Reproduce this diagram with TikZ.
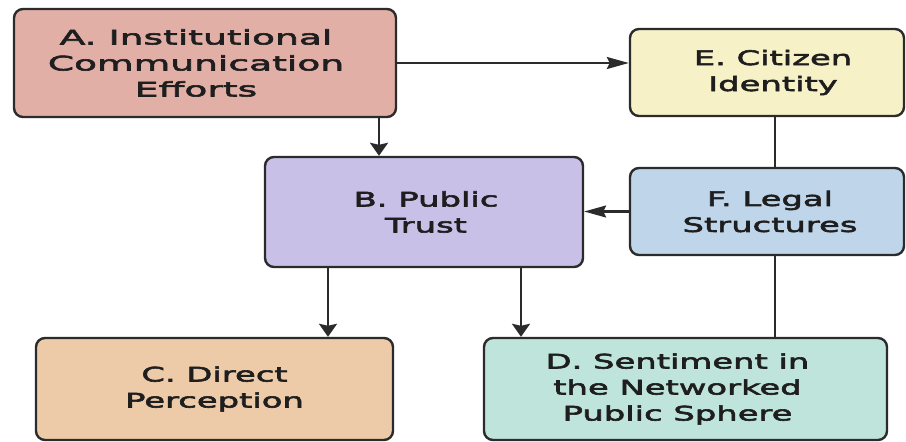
\documentclass[tikz,border=0pt]{standalone}
\usepackage{fontspec}
\newfontfamily\boxfont[FakeStretch=1.69,FakeBold=3]{DejaVu Sans}
\newfontfamily\boxfontA[FakeStretch=1.88,FakeBold=3]{DejaVu Sans}
\usetikzlibrary{arrows.meta}
\definecolor{cA}{HTML}{E2AFA7}
\definecolor{cB}{HTML}{C9C0E8}
\definecolor{cC}{HTML}{EDCAA8}
\definecolor{cD}{HTML}{BFE4DC}
\definecolor{cE}{HTML}{F7F1C8}
\definecolor{cF}{HTML}{BFD6EA}
\definecolor{edge}{HTML}{2B2B2B}
\definecolor{ink}{HTML}{1E1E1E}
\begin{document}
\begin{tikzpicture}[x=1pt,y=1pt,
  box/.style={draw=edge, line width=2.4pt, rounded corners=9pt, inner sep=0pt},
  txt/.style={font=\boxfont\fontsize{20}{26}\selectfont, align=center, text=ink},
  txtA/.style={font=\boxfontA\fontsize{20}{26}\selectfont, align=center, text=ink},
  link/.style={draw=edge, line width=2.3pt},
  varr/.style={link, -{Stealth[length=13pt,width=18pt,inset=2pt]}},
  harr/.style={link, -{Stealth[length=22pt,width=12pt,inset=3pt]}}]
\fill[white] (0,0) rectangle (906,-442);
\useasboundingbox (0,0) rectangle (906,-442);
% boxes
\node[box, fill=cA, minimum width=382, minimum height=108,
  label={[txtA,name=At,xshift=-9pt]center:A. Institutional\\Communication\\Efforts}] (A) at (205,-63) {};
\node[box, fill=cB, minimum width=318, minimum height=110,
  label={[txt,name=Bt,xshift=2pt]center:B. Public\\Trust}] (B) at (424,-212) {};
\node[box, fill=cE, minimum width=274, minimum height=87,
  label={[txt,name=Et,xshift=6pt]center:E. Citizen\\Identity}] (E) at (767,-72.5) {};
\node[box, fill=cF, minimum width=274, minimum height=87,
  label={[txt,name=Ft,xshift=3pt]center:F. Legal\\Structures}] (F) at (767,-211.5) {};
\node[box, fill=cC, minimum width=357, minimum height=102,
  label={[txt,name=Ct]center:C. Direct\\Perception}] (C) at (214.5,-389) {};
\node[box, fill=cD, minimum width=403, minimum height=102,
  label={[txt,name=Dt,xshift=-8pt]center:D. Sentiment in\\the Networked\\Public Sphere}] (D) at (685.5,-389) {};
% connector columns
\coordinate (xab) at (379,0);
\coordinate (xef) at (775,0);
\coordinate (xbc) at (328,0);
\coordinate (xbd) at (521,0);
% connectors
\draw[harr] (A.east) -- (A.east -| E.west);
\draw[varr] (A.south -| xab) -- (B.north -| xab);
\draw[harr] (F.west) -- (F.west -| B.east);
\draw[link] (E.south -| xef) -- (F.north -| xef);
\draw[link] (F.south -| xef) -- (D.north -| xef);
\draw[varr] (B.south -| xbc) -- (C.north -| xbc);
\draw[varr] (B.south -| xbd) -- (D.north -| xbd);
\end{tikzpicture}
\end{document}
